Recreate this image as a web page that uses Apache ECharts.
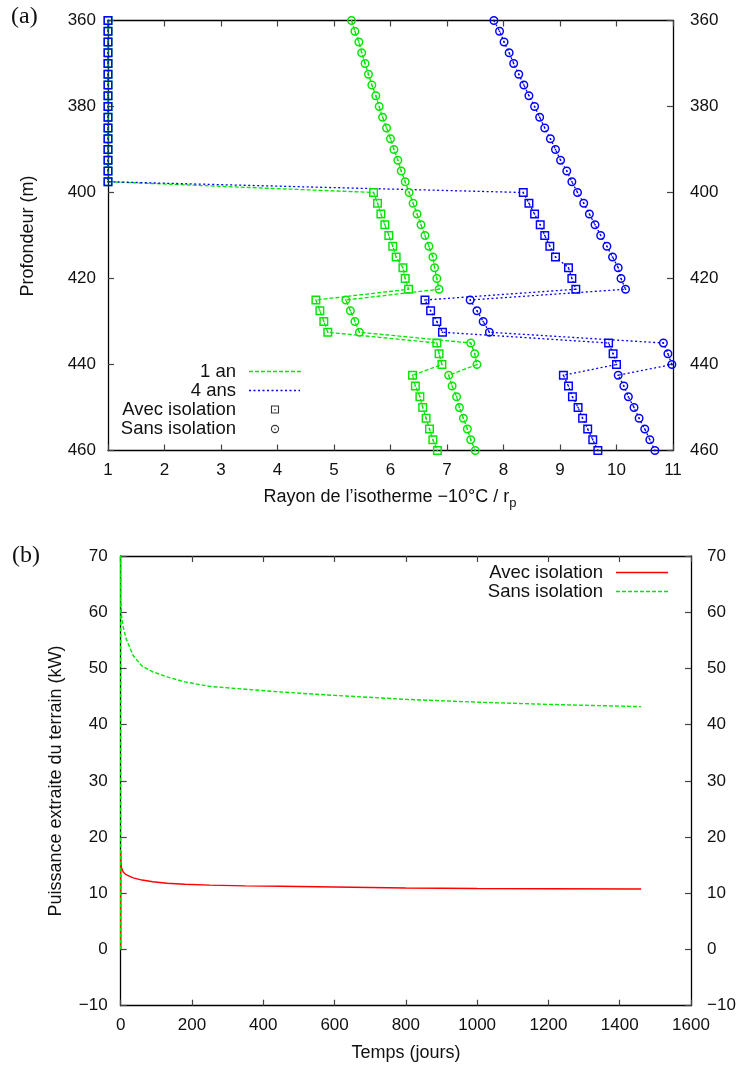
<!DOCTYPE html>
<html><head><meta charset="utf-8">
<script src="https://cdn.jsdelivr.net/npm/echarts@6/dist/echarts.min.js"></script>
<style>html,body{margin:0;padding:0;background:#fff}#c{width:736px;height:1068px}</style>
</head><body><div id="c"></div>
<script>
// ---------- Panel (a) data ----------
const depths = [360,362.5,365,367.5,370,372.5,375,377.5,380,382.5,385,387.5,390,392.5,395,397.5,
  400,402.5,405,407.5,410,412.5,415,417.5,420,422.5,425,427.5,430,432.5,435,437.5,440,
  442.5,445,447.5,450,452.5,455,457.5,460];
const an1Avec = [1,1,1,1,1,1,1,1,1,1,1,1,1,1,1,1,
  5.70,5.77,5.83,5.90,5.97,6.04,6.10,6.22,6.26,6.32,
  4.68,4.75,4.82,4.89,
  6.82,6.86,6.91,
  6.39,6.44,6.52,6.57,6.63,6.69,6.75,6.83];
const an1Sans = [5.31,5.37,5.44,5.49,5.55,5.61,5.67,5.74,5.80,5.86,5.93,6.00,6.06,6.13,6.19,6.26,
  6.33,6.40,6.47,6.54,6.61,6.68,6.75,6.78,6.82,6.86,
  5.21,5.29,5.37,5.45,
  7.42,7.49,7.53,
  7.03,7.09,7.17,7.22,7.29,7.36,7.42,7.50];
const an4Avec = [1,1,1,1,1,1,1,1,1,1,1,1,1,1,1,1,
  8.35,8.45,8.55,8.65,8.73,8.82,8.92,9.15,9.21,9.28,
  6.61,6.71,6.82,6.92,
  9.86,9.94,10.00,
  9.06,9.15,9.22,9.32,9.40,9.49,9.58,9.67];
const an4Sans = [7.83,7.93,8.01,8.10,8.18,8.27,8.36,8.45,8.55,8.64,8.73,8.83,8.92,9.01,9.12,9.21,
  9.31,9.42,9.52,9.62,9.72,9.83,9.93,10.03,10.08,10.16,
  7.41,7.53,7.64,7.75,
  10.83,10.91,10.98,
  10.03,10.13,10.21,10.31,10.40,10.50,10.59,10.68];
const xTicksA = [1,2,3,4,5,6,7,8,9,10,11];
const yTicksA = [360,380,400,420,440,460];

// ---------- Panel (b) data ----------
const tDays = [0,0.05,0.5,2,7,15,35,60,90,130,180,250,350,450,600,800,1000,1200,1460];
const pAvec = [0,17.5,15.8,14.6,13.8,13.3,12.75,12.35,12.05,11.78,11.6,11.45,11.32,11.24,11.12,10.95,10.85,10.8,10.75];
const pSans = [0,80,62,59.5,57.4,55.3,52.3,50.4,49.4,48.5,47.6,46.8,46.3,45.8,45.2,44.5,44.0,43.6,43.2];

const GREEN = '#00e600', BLUE = '#0000ff', RED = '#ff0000';
const FONT = 'Liberation Sans, Arial, Helvetica, sans-serif';
const sq = 'path://M0,0L10,0L10,10L0,10Z M1.6,1.6L1.6,8.4L8.4,8.4L8.4,1.6Z M4.2,4.2L5.8,4.2L5.8,5.8L4.2,5.8Z';
const ci = 'path://M5,0A5,5,0,1,1,5,10A5,5,0,1,1,5,0Z M5,1.6A3.4,3.4,0,1,0,5,8.4A3.4,3.4,0,1,0,5,1.6Z M4.2,4.2L5.8,4.2L5.8,5.8L4.2,5.8Z';

const zip = (xs, ys) => xs.map((x, i) => [x, ys[i]]);
const fmt = v => String(v).replace('-', '\u2212');

function axisCommon(extra) {
  return Object.assign({
    type: 'value',
    axisLine: { show: true, onZero: false, lineStyle: { color: '#000', width: 1.3 } },
    axisTick: { show: true, inside: true, length: 6, lineStyle: { color: '#444', width: 1.2 } },
    splitLine: { show: false },
    axisLabel: { color: '#111', fontFamily: FONT, fontSize: 17, formatter: fmt }
  }, extra);
}

const chart = echarts.init(document.getElementById('c'), null, { renderer: 'canvas' });
const option = {
  animation: false,
  backgroundColor: '#fff',
  grid: [
    { left: 108, top: 20.5, width: 565, height: 430, outerBoundsMode: 'none' },
    { left: 120.7, top: 556, width: 570.3, height: 449.7, outerBoundsMode: 'none' }
  ],
  xAxis: [
    axisCommon({ gridIndex: 0, position: 'bottom', min: xTicksA[0], max: xTicksA[xTicksA.length-1], interval: 1,
      axisLabel: { color: '#111', fontFamily: FONT, fontSize: 17, margin: 11, formatter: fmt } }),
    axisCommon({ gridIndex: 0, position: 'top', min: 1, max: 11, interval: 1, axisLabel: { show: false } }),
    axisCommon({ gridIndex: 1, position: 'bottom', min: 0, max: 1600, interval: 200,
      axisLabel: { color: '#111', fontFamily: FONT, fontSize: 17, margin: 11, formatter: fmt } }),
    axisCommon({ gridIndex: 1, position: 'top', min: 0, max: 1600, interval: 200, axisLabel: { show: false } })
  ],
  yAxis: [
    axisCommon({ gridIndex: 0, position: 'left', inverse: true, min: yTicksA[0], max: yTicksA[yTicksA.length-1], interval: 20,
      axisLabel: { color: '#111', fontFamily: FONT, fontSize: 17, margin: 12, formatter: fmt } }),
    axisCommon({ gridIndex: 0, position: 'right', inverse: true, min: 360, max: 460, interval: 20,
      axisLabel: { color: '#111', fontFamily: FONT, fontSize: 17, margin: 17, formatter: fmt } }),
    axisCommon({ gridIndex: 1, position: 'left', min: -10, max: 70, interval: 10,
      axisLabel: { color: '#111', fontFamily: FONT, fontSize: 17, margin: 13, formatter: fmt } }),
    axisCommon({ gridIndex: 1, position: 'right', min: -10, max: 70, interval: 10,
      axisLabel: { color: '#111', fontFamily: FONT, fontSize: 17, margin: 16, formatter: fmt } })
  ],
  series: [
    { name: '1 an avec', type: 'line', xAxisIndex: 0, yAxisIndex: 0, data: zip(an1Avec, depths),
      symbol: sq, symbolSize: 9, showAllSymbol: true,
      lineStyle: { color: GREEN, width: 1.3, type: [4, 2] }, itemStyle: { color: GREEN } },
    { name: '1 an sans', type: 'line', xAxisIndex: 0, yAxisIndex: 0, data: zip(an1Sans, depths),
      symbol: ci, symbolSize: 9, showAllSymbol: true,
      lineStyle: { color: GREEN, width: 1.3, type: [4, 2] }, itemStyle: { color: GREEN } },
    { name: '4 ans avec', type: 'line', xAxisIndex: 0, yAxisIndex: 0, data: zip(an4Avec, depths),
      symbol: sq, symbolSize: 9, showAllSymbol: true,
      lineStyle: { color: BLUE, width: 1.3, type: [2, 2.5] }, itemStyle: { color: BLUE } },
    { name: '4 ans sans', type: 'line', xAxisIndex: 0, yAxisIndex: 0, data: zip(an4Sans, depths),
      symbol: ci, symbolSize: 9, showAllSymbol: true,
      lineStyle: { color: BLUE, width: 1.3, type: [2, 2.5] }, itemStyle: { color: BLUE } },
    { name: 'Avec isolation', type: 'line', xAxisIndex: 2, yAxisIndex: 2, data: zip(tDays, pAvec),
      symbol: 'none', lineStyle: { color: RED, width: 1.4 } },
    { name: 'Sans isolation', type: 'line', xAxisIndex: 2, yAxisIndex: 2, data: zip(tDays, pSans),
      symbol: 'none', lineStyle: { color: GREEN, width: 1.4, type: [4, 2] } }
  ],
  graphic: [
    // panel labels
    { type: 'text', x: 11, y: 17, style: { text: '(a)', font: '24px "Liberation Serif", "DejaVu Serif", serif', fill: '#111', textVerticalAlign: 'middle' } },
    { type: 'text', x: 12, y: 556, style: { text: '(b)', font: '24px "Liberation Serif", "DejaVu Serif", serif', fill: '#111', textVerticalAlign: 'middle' } },
    // axis titles (a)
    { type: 'text', x: 28, y: 236, rotation: Math.PI / 2, style: { text: 'Profondeur (m)', font: '18px ' + FONT, fill: '#111', textAlign: 'center', textVerticalAlign: 'middle' } },
    { type: 'text', x: 390, y: 497, style: { text: '{a|Rayon de l\u2019isotherme \u221210\u00b0C / r}{s|p}', fill: '#111', textAlign: 'center', textVerticalAlign: 'middle',
        rich: { a: { fontFamily: FONT, fontSize: 18, fill: '#111' }, s: { fontFamily: FONT, fontSize: 13, fill: '#111', padding: [12, 0, 0, 0] } } } },
    // axis titles (b)
    { type: 'text', x: 56, y: 781, rotation: Math.PI / 2, style: { text: 'Puissance extraite du terrain (kW)', font: '18px ' + FONT, fill: '#111', textAlign: 'center', textVerticalAlign: 'middle' } },
    { type: 'text', x: 406, y: 1053, style: { text: 'Temps (jours)', font: '18px ' + FONT, fill: '#111', textAlign: 'center', textVerticalAlign: 'middle' } },
    // legend (a)
    { type: 'text', x: 236, y: 372, style: { text: '1 an', font: '18.5px ' + FONT, fill: '#111', textAlign: 'right', textVerticalAlign: 'middle' } },
    { type: 'line', shape: { x1: 249, y1: 371.5, x2: 302, y2: 371.5 }, style: { stroke: GREEN, lineWidth: 1.5, lineDash: [4, 2] } },
    { type: 'text', x: 236, y: 391, style: { text: '4 ans', font: '18.5px ' + FONT, fill: '#111', textAlign: 'right', textVerticalAlign: 'middle' } },
    { type: 'line', shape: { x1: 249, y1: 390.5, x2: 300, y2: 390.5 }, style: { stroke: BLUE, lineWidth: 1.4, lineDash: [2, 2.5] } },
    { type: 'text', x: 236, y: 410, style: { text: 'Avec isolation', font: '18.5px ' + FONT, fill: '#111', textAlign: 'right', textVerticalAlign: 'middle' } },
    { type: 'rect', shape: { x: 271.5, y: 406, width: 7, height: 7 }, style: { stroke: '#333', fill: 'none', lineWidth: 1.1 } },
    { type: 'rect', shape: { x: 274.4, y: 408.9, width: 1.3, height: 1.3 }, style: { fill: '#333' } },
    { type: 'text', x: 236, y: 429, style: { text: 'Sans isolation', font: '18.5px ' + FONT, fill: '#111', textAlign: 'right', textVerticalAlign: 'middle' } },
    { type: 'circle', shape: { cx: 275, cy: 429, r: 3.6 }, style: { stroke: '#333', fill: 'none', lineWidth: 1.1 } },
    { type: 'rect', shape: { x: 274.4, y: 428.4, width: 1.3, height: 1.3 }, style: { fill: '#333' } },
    // legend (b)
    { type: 'text', x: 603, y: 573, style: { text: 'Avec isolation', font: '18.5px ' + FONT, fill: '#111', textAlign: 'right', textVerticalAlign: 'middle' } },
    { type: 'line', shape: { x1: 616, y1: 572.5, x2: 668, y2: 572.5 }, style: { stroke: RED, lineWidth: 1.4 } },
    { type: 'text', x: 603, y: 592, style: { text: 'Sans isolation', font: '18.5px ' + FONT, fill: '#111', textAlign: 'right', textVerticalAlign: 'middle' } },
    { type: 'line', shape: { x1: 616, y1: 591.5, x2: 668, y2: 591.5 }, style: { stroke: GREEN, lineWidth: 1.5, lineDash: [4, 2] } }
  ]
};
chart.setOption(option);
</script>
</body></html>
